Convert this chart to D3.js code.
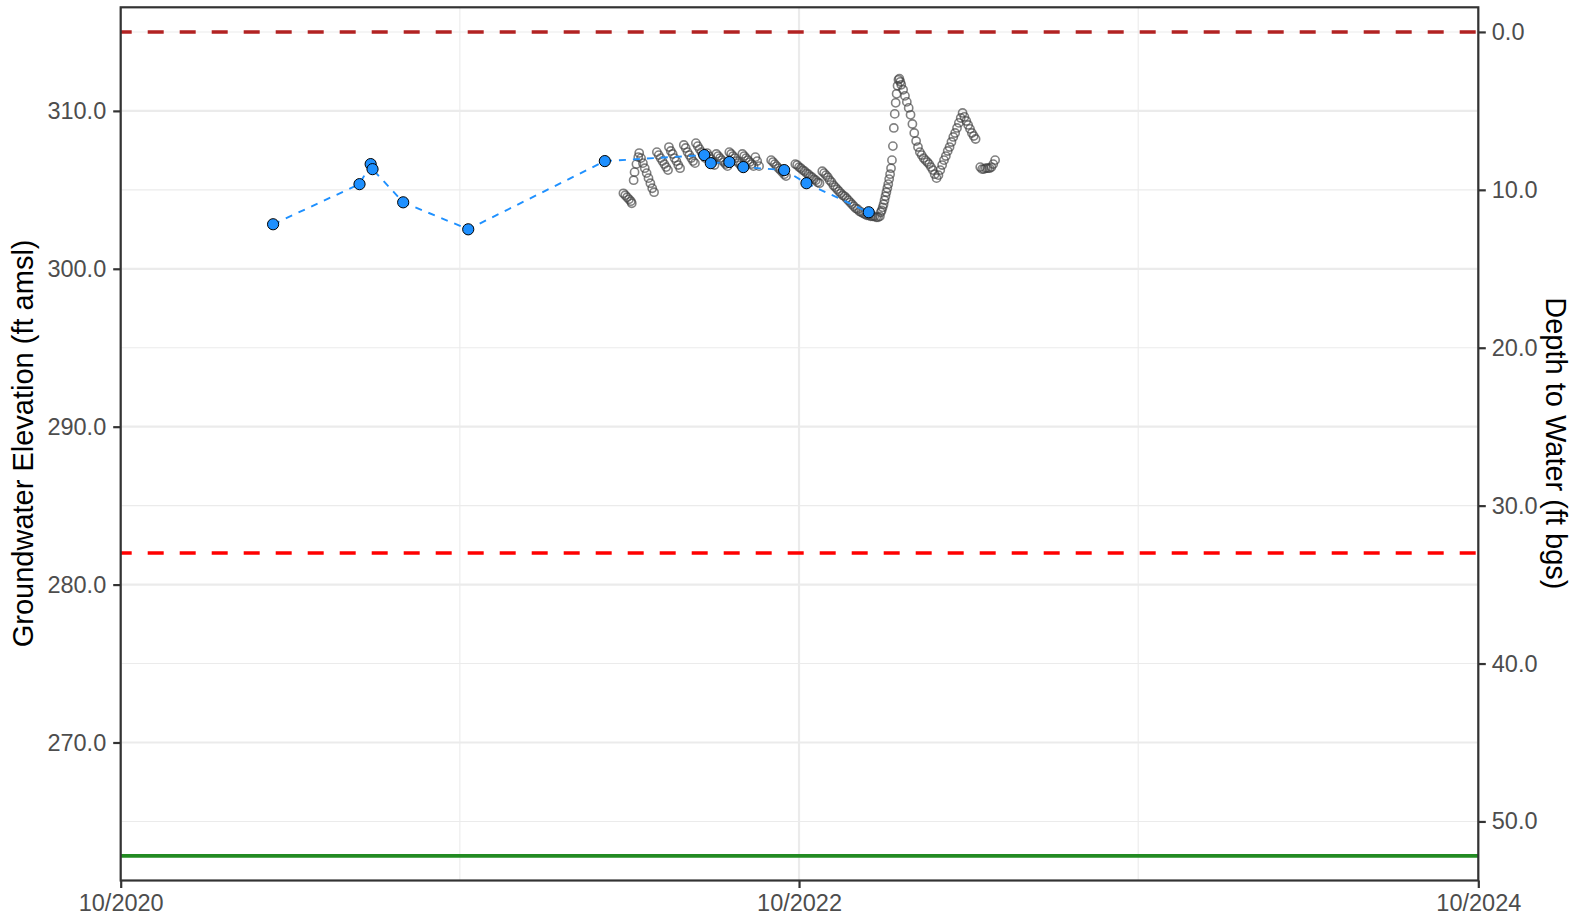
<!DOCTYPE html>
<html><head><meta charset="utf-8">
<script src="https://cdn.jsdelivr.net/npm/d3@7"></script>
<style>
body{margin:0;background:#fff}
svg{display:block}
text{font-family:"Liberation Sans", Arial, Helvetica, sans-serif}
</style>
</head><body>
<svg id="chart" width="1574" height="917"></svg>
<script>
// ---------------- data ----------------
const xTickDates = ["2020-10-01", "2022-10-01", "2024-10-01"];
const xMinorDates = ["2021-10-01", "2023-10-01"];
const elevTicks = [270, 280, 290, 300, 310];
const elevMinorTicks = [265, 275, 285, 295, 305, 315];
const depthTicks = [0, 10, 20, 30, 40, 50];

const groundSurfaceElev = 315.0;   // dark red dashed
const thresholdElev = 282.0;       // red dashed
const wellBottomElev = 262.82;     // green solid

const manualDates = ["2021-03-14","2021-06-15","2021-06-27","2021-06-29","2021-08-01","2021-10-10",
  "2022-03-06","2022-06-21","2022-06-28","2022-07-18","2022-08-02","2022-09-15","2022-10-09","2022-12-15"];
const manualElev = [302.82, 305.36, 306.63, 306.31, 304.21, 302.50,
  306.82, 307.20, 306.69, 306.76, 306.44, 306.25, 305.42, 303.58];

const transducerReadings = [
["2022-03-26",304.78],["2022-03-28",304.66],["2022-03-30",304.53],["2022-04-01",304.40],["2022-04-03",304.28],["2022-04-04",304.15],
["2022-04-06",305.61],["2022-04-07",306.12],["2022-04-09",306.63],["2022-04-11",307.07],
["2022-04-12",307.33],["2022-04-14",307.01],["2022-04-16",306.69],["2022-04-18",306.37],["2022-04-20",306.06],["2022-04-22",305.74],["2022-04-24",305.42],["2022-04-26",305.10],["2022-04-28",304.85],
["2022-05-01",307.39],["2022-05-03",307.20],["2022-05-05",307.01],["2022-05-07",306.82],["2022-05-09",306.63],["2022-05-11",306.44],["2022-05-13",306.25],
["2022-05-14",307.71],["2022-05-16",307.46],["2022-05-18",307.27],["2022-05-20",307.01],["2022-05-22",306.82],["2022-05-24",306.57],["2022-05-26",306.37],
["2022-05-30",307.84],["2022-06-01",307.65],["2022-06-03",307.39],["2022-06-05",307.20],["2022-06-07",307.01],["2022-06-09",306.82],["2022-06-11",306.69],
["2022-06-12",307.96],["2022-06-14",307.77],["2022-06-16",307.58],["2022-06-18",307.39],["2022-06-20",307.20],["2022-06-22",307.01],
["2022-06-24",307.33],["2022-06-26",307.14],["2022-06-28",306.95],["2022-06-30",306.76],["2022-07-02",306.57],
["2022-07-04",307.27],["2022-07-06",307.14],["2022-07-08",307.01],["2022-07-10",306.88],["2022-07-12",306.76],["2022-07-14",306.63],["2022-07-16",306.50],
["2022-07-18",307.39],["2022-07-20",307.27],["2022-07-22",307.14],["2022-07-24",307.01],["2022-07-26",306.82],["2022-07-28",306.69],["2022-07-30",306.57],
["2022-08-01",307.27],["2022-08-03",307.14],["2022-08-05",307.01],["2022-08-07",306.88],["2022-08-09",306.76],["2022-08-11",306.63],["2022-08-13",306.50],
["2022-08-15",307.07],["2022-08-17",306.82],["2022-08-19",306.50],
["2022-09-01",306.88],["2022-09-03",306.76],["2022-09-05",306.63],["2022-09-07",306.50],["2022-09-09",306.37],["2022-09-11",306.25],["2022-09-13",306.12],["2022-09-15",305.99],["2022-09-17",305.87],
["2022-09-27",306.63],["2022-09-29",306.57],["2022-10-01",306.44],["2022-10-03",306.37],["2022-10-05",306.25],["2022-10-07",306.18],["2022-10-09",306.06],["2022-10-11",305.99],["2022-10-13",305.87],["2022-10-15",305.80],["2022-10-17",305.68],["2022-10-19",305.61],["2022-10-21",305.48],["2022-10-23",305.42],
["2022-10-26",306.18],["2022-10-28",306.06],["2022-10-30",305.93],["2022-11-01",305.80],["2022-11-03",305.61],["2022-11-05",305.48],["2022-11-07",305.29],["2022-11-09",305.17],["2022-11-11",305.04],["2022-11-13",304.91],["2022-11-15",304.78],["2022-11-17",304.66],["2022-11-19",304.59],["2022-11-21",304.47],["2022-11-23",304.34],["2022-11-25",304.21],["2022-11-27",304.09],["2022-11-29",303.96],["2022-12-01",303.83],["2022-12-03",303.77],["2022-12-05",303.64],["2022-12-07",303.58],["2022-12-09",303.51],["2022-12-11",303.45],["2022-12-13",303.39],["2022-12-15",303.39],["2022-12-17",303.32],["2022-12-19",303.32],["2022-12-21",303.32],["2022-12-23",303.26],["2022-12-25",303.26],["2022-12-27",303.32],
["2022-12-28",303.58],["2022-12-29",303.70],["2022-12-30",303.89],["2022-12-31",304.09],["2023-01-01",304.34],["2023-01-02",304.59],["2023-01-03",304.85],["2023-01-04",305.10],["2023-01-05",305.36],["2023-01-06",305.68],["2023-01-07",305.99],["2023-01-08",306.37],["2023-01-09",306.88],["2023-01-10",307.77],["2023-01-11",308.92],["2023-01-12",309.81],["2023-01-13",310.51],["2023-01-14",311.08],["2023-01-15",311.59],["2023-01-16",311.97],
["2023-01-17",312.04],["2023-01-18",311.84],["2023-01-19",311.65],["2023-01-21",311.34],["2023-01-23",310.95],["2023-01-25",310.57],["2023-01-27",310.19],["2023-01-29",309.75],["2023-01-31",309.17],["2023-02-02",308.60],["2023-02-04",308.09],["2023-02-06",307.71],["2023-02-08",307.39],["2023-02-10",307.20],["2023-02-12",307.01],["2023-02-14",306.88],["2023-02-16",306.76],["2023-02-18",306.63],["2023-02-20",306.44],["2023-02-22",306.25],["2023-02-24",305.99],["2023-02-26",305.74],
["2023-02-28",305.93],["2023-03-02",306.25],["2023-03-04",306.57],["2023-03-06",306.88],["2023-03-08",307.14],["2023-03-10",307.46],["2023-03-12",307.71],["2023-03-14",308.03],["2023-03-16",308.35],["2023-03-18",308.60],["2023-03-20",308.92],["2023-03-22",309.24],["2023-03-24",309.55],["2023-03-26",309.87],
["2023-03-28",309.62],["2023-03-30",309.36],["2023-04-01",309.11],["2023-04-03",308.86],["2023-04-05",308.60],["2023-04-07",308.41],["2023-04-09",308.22],
["2023-04-14",306.44],["2023-04-16",306.31],["2023-04-18",306.31],["2023-04-20",306.37],["2023-04-22",306.37],["2023-04-24",306.37],["2023-04-26",306.44],["2023-04-28",306.63],["2023-04-30",306.88]
];

const yTitleLeft = "Groundwater Elevation (ft amsl)";
const yTitleRight = "Depth to Water (ft bgs)";

// ---------------- layout ----------------
const W = 1574, H = 917;
const x0 = 120.7, x1 = 1478.3, y0 = 7.3, y1 = 880.5;
const parse = d3.utcParse("%Y-%m-%d");

const x = d3.scaleUtc().domain([parse(xTickDates[0]), parse(xTickDates[2])]).range([x0, x1]);
const yDom = [261.26, 316.56];
const y = d3.scaleLinear().domain(yDom).range([y1, y0]);
const yDepth = d3.scaleLinear().domain([groundSurfaceElev - yDom[0], groundSurfaceElev - yDom[1]]).range([y1, y0]);

const svg = d3.select("#chart");
const tickCol = "#333333", labCol = "#4D4D4D", gridCol = "#EBEBEB";
const fmt = d3.format(".1f");

// grid
const grid = svg.append("g");
grid.selectAll(".ymin").data(elevMinorTicks).join("line")
  .attr("x1", x0).attr("x2", x1).attr("y1", d => y(d)).attr("y2", d => y(d))
  .attr("stroke", gridCol).attr("stroke-width", 1.1);
grid.selectAll(".xmin").data(xMinorDates).join("line")
  .attr("x1", d => x(parse(d))).attr("x2", d => x(parse(d))).attr("y1", y0).attr("y2", y1)
  .attr("stroke", gridCol).attr("stroke-width", 1.1);
grid.selectAll(".ymaj").data(elevTicks).join("line")
  .attr("x1", x0).attr("x2", x1).attr("y1", d => y(d)).attr("y2", d => y(d))
  .attr("stroke", gridCol).attr("stroke-width", 2.2);
grid.selectAll(".xmaj").data(xTickDates).join("line")
  .attr("x1", d => x(parse(d))).attr("x2", d => x(parse(d))).attr("y1", y0).attr("y2", y1)
  .attr("stroke", gridCol).attr("stroke-width", 2.2);

// reference lines
function hline(v, col, dash) {
  const l = svg.append("line").attr("x1", x0).attr("x2", x1).attr("y1", y(v)).attr("y2", y(v))
    .attr("stroke", col).attr("stroke-width", 3.6);
  if (dash) l.attr("stroke-dasharray", "16,16").attr("stroke-dashoffset", 5);
}
hline(groundSurfaceElev, "#B22222", true);
hline(thresholdElev, "#FF0000", true);
hline(wellBottomElev, "#228B22", false);

// transducer
svg.append("g").selectAll("circle").data(transducerReadings).join("circle")
  .attr("cx", d => x(parse(d[0]))).attr("cy", d => y(d[1])).attr("r", 4.1)
  .attr("fill", "none").attr("stroke", "#3f3f3f").attr("stroke-opacity", 0.66).attr("stroke-width", 1.6);

// manual
const manual = manualDates.map((d, i) => ({date: parse(d), elev: manualElev[i]}));
svg.append("path").datum(manual)
  .attr("d", d3.line().x(d => x(d.date)).y(d => y(d.elev)))
  .attr("fill", "none").attr("stroke", "#1E90FF").attr("stroke-width", 1.9).attr("stroke-dasharray", "7,7");
svg.append("g").selectAll("circle").data(manual).join("circle")
  .attr("cx", d => x(d.date)).attr("cy", d => y(d.elev)).attr("r", 5.6)
  .attr("fill", "#1E90FF").attr("stroke", "#000").attr("stroke-width", 1);

// axes
const axL = svg.append("g").attr("transform", `translate(${x0},0)`)
  .call(d3.axisLeft(y).tickValues(elevTicks).tickFormat(fmt).tickSize(7.5).tickPadding(7));
const axR = svg.append("g").attr("transform", `translate(${x1},0)`)
  .call(d3.axisRight(yDepth).tickValues(depthTicks).tickFormat(fmt).tickSize(7.5).tickPadding(6));
const axB = svg.append("g").attr("transform", `translate(0,${y1})`)
  .call(d3.axisBottom(x).tickValues(xTickDates.map(parse)).tickFormat(d3.utcFormat("%m/%Y")).tickSize(7.5).tickPadding(6));
[axL, axR, axB].forEach(a => {
  a.select(".domain").remove();
  a.selectAll(".tick line").attr("stroke", tickCol).attr("stroke-width", 2.2);
  a.selectAll(".tick text").attr("fill", labCol).attr("font-size", "23.5px")
    .attr("font-family", "'Liberation Sans', Arial, sans-serif");
});
axB.selectAll(".tick text").attr("dy", "0.71em");

// panel border
svg.append("rect").attr("x", x0).attr("y", y0).attr("width", x1 - x0).attr("height", y1 - y0)
  .attr("fill", "none").attr("stroke", tickCol).attr("stroke-width", 2.2);

// titles
svg.append("text").attr("transform", `translate(33,${(y0 + y1) / 2 - 0.5}) rotate(-90)`)
  .attr("text-anchor", "middle").attr("font-size", "29px").attr("fill", "#000").text(yTitleLeft);
svg.append("text").attr("transform", `translate(1546,${(y0 + y1) / 2 - 0.5}) rotate(90)`)
  .attr("text-anchor", "middle").attr("font-size", "29px").attr("fill", "#000").text(yTitleRight);
</script>
</body></html>
